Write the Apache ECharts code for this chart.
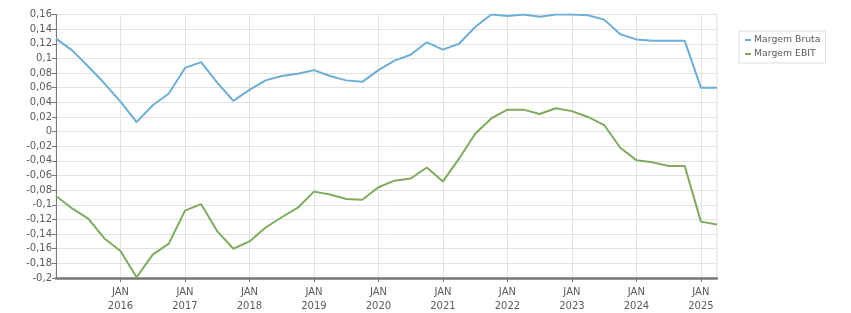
<!DOCTYPE html>
<html>
<head>
<meta charset="utf-8">
<script src="https://cdn.jsdelivr.net/npm/echarts@6/dist/echarts.min.js"></script>
<style>
html,body{margin:0;padding:0;background:#fff;}
#chart{width:851px;height:313px;}
</style>
</head>
<body>
<div id="chart"></div>
<script>
// Quarterly periods Jan 2015 .. Apr 2025
const periods = ["2015-01","2015-04","2015-07","2015-10","2016-01","2016-04","2016-07","2016-10","2017-01","2017-04","2017-07","2017-10","2018-01","2018-04","2018-07","2018-10","2019-01","2019-04","2019-07","2019-10","2020-01","2020-04","2020-07","2020-10","2021-01","2021-04","2021-07","2021-10","2022-01","2022-04","2022-07","2022-10","2023-01","2023-04","2023-07","2023-10","2024-01","2024-04","2024-07","2024-10","2025-01","2025-04"];
const margemBruta = [0.127,0.111,0.089,0.066,0.041,0.013,0.036,0.052,0.087,0.095,0.067,0.042,0.057,0.070,0.076,0.079,0.084,0.076,0.070,0.068,0.084,0.097,0.105,0.122,0.112,0.120,0.143,0.160,0.158,0.160,0.157,0.160,0.160,0.159,0.153,0.133,0.126,0.124,0.124,0.124,0.060,0.060];
const margemEbit = [-0.088,-0.105,-0.119,-0.146,-0.163,-0.199,-0.168,-0.153,-0.108,-0.099,-0.136,-0.160,-0.150,-0.131,-0.117,-0.104,-0.082,-0.086,-0.092,-0.093,-0.076,-0.067,-0.064,-0.049,-0.068,-0.037,-0.003,0.018,0.030,0.030,0.024,0.032,0.028,0.020,0.009,-0.022,-0.039,-0.042,-0.047,-0.047,-0.123,-0.127];
const seriesNames = ["Margem Bruta","Margem EBIT"];
const monthNames = {"01":"JAN","04":"ABR","07":"JUL","10":"OUT"};

const chart = echarts.init(document.getElementById('chart'), null, {renderer:'canvas'});
const isYearTick = (i) => i > 0 && periods[i].slice(5) === "01";
const FONT = "DejaVu Sans";
chart.setOption({
  animation:false,
  backgroundColor:'#fff',
  grid:{left:56,right:134,top:14.5,bottom:33,show:true,borderColor:'#dedede',borderWidth:1},
  legend:{
    orient:'vertical', left:739, top:31,
    borderColor:'#dcdcdc', borderWidth:1, padding:[3,5,3,6],
    itemWidth:6, itemHeight:2, itemGap:2, icon:'rect',
    textStyle:{fontFamily:FONT,fontSize:9.3,color:'#5a5a5a',lineHeight:12,padding:[0,0,0,-2]},
    data:seriesNames
  },
  xAxis:{
    type:'category', boundaryGap:false, data:periods,
    axisLine:{onZero:false,lineStyle:{color:'#777',width:2.5}},
    axisTick:{interval:isYearTick,length:4,lineStyle:{color:'#777'}},
    splitLine:{show:true,interval:isYearTick,lineStyle:{color:'#e2e2e2',width:1}},
    axisLabel:{interval:isYearTick,fontFamily:FONT,fontSize:10,color:'#5a5a5a',lineHeight:14,margin:7,
      formatter:(v)=>monthNames[v.slice(5)]+"\n"+v.slice(0,4)}
  },
  yAxis:{
    type:'value', min:-0.2, max:0.16, interval:0.02,
    axisLine:{show:true,lineStyle:{color:'#777',width:1}},
    axisTick:{show:true,length:4,lineStyle:{color:'#777'}},
    splitLine:{show:true,lineStyle:{color:'#e2e2e2',width:1}},
    axisLabel:{fontFamily:FONT,fontSize:10,color:'#5a5a5a',margin:4,
      formatter:(v)=>String(parseFloat(v.toFixed(2))).replace('.',',')}
  },
  series:[
    {name:seriesNames[0],type:'line',data:margemBruta,symbol:'none',color:'#6eadd4',lineStyle:{width:2,color:'#6eadd4'}},
    {name:seriesNames[1],type:'line',data:margemEbit,symbol:'none',color:'#80aa5e',lineStyle:{width:2,color:'#80aa5e'}}
  ]
});
</script>
</body>
</html>
